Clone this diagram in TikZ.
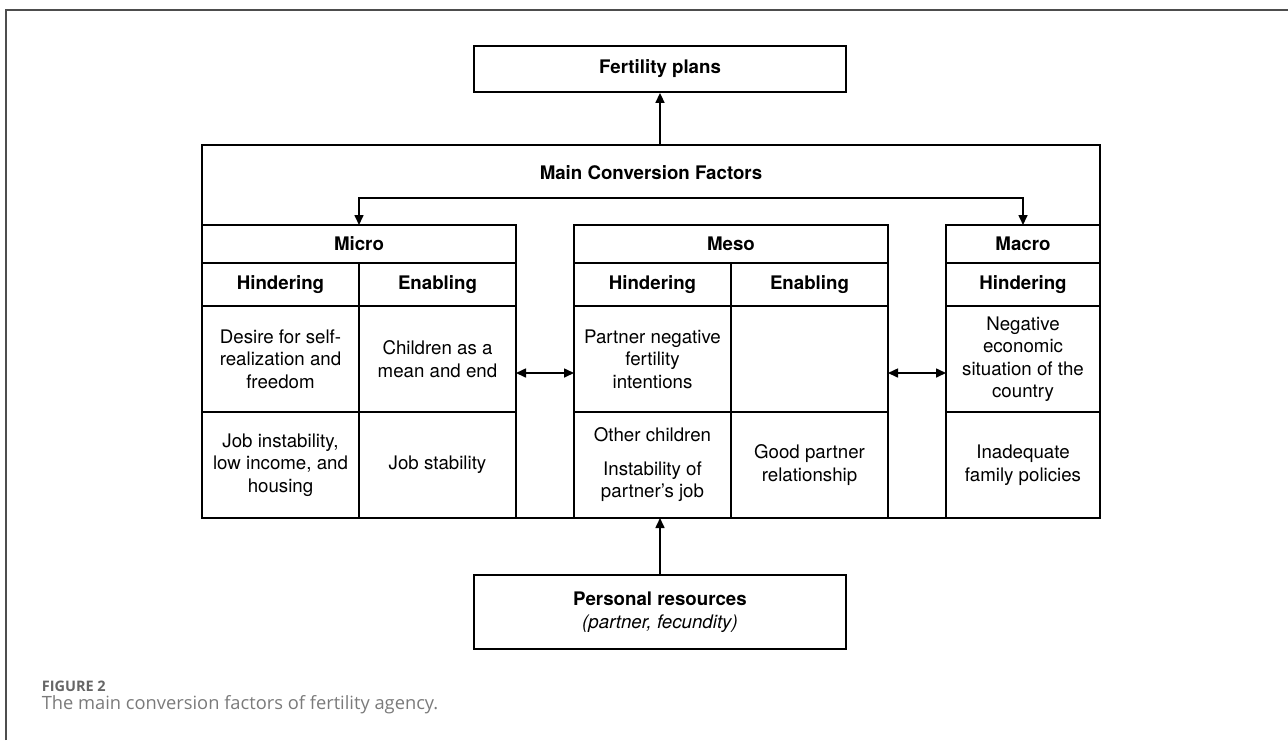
\documentclass[tikz,border=0pt]{standalone}
\usepackage{fontspec}
\setmainfont{TeX Gyre Heros}
\newfontfamily\capfont{Open Sans}
\usetikzlibrary{positioning,arrows.meta}
\definecolor{capgray}{HTML}{7A7A7A}
\definecolor{figgray}{HTML}{666666}
\definecolor{rulegray}{HTML}{4D4D4D}

\begin{document}
\begin{tikzpicture}[x=1pt, y=-1pt, line width=1.6pt, >={Triangle[length=10pt,width=9pt]},
    every node/.style={font=\fontsize{18.7}{22.5}\selectfont},
    tcell/.style={draw, align=center, inner sep=0pt, outer sep=0pt, minimum width=157pt},
    hdcell/.style={font=\fontsize{18.7}{22.5}\selectfont\bfseries, minimum height=38pt},
    subcell/.style={font=\fontsize{18.7}{22.5}\selectfont\bfseries, minimum height=43pt},
    rowcell/.style={minimum height=106pt},
    plainbox/.style={draw, line width=1.8pt, align=center, inner sep=0pt, minimum width=372pt}]
    \useasboundingbox (0,0) rectangle (1288,740);
    \draw[rulegray, line width=1.4pt] (6,740) -- (6,10) -- (1288,10);

    \node[plainbox, minimum height=46pt] (plans) at (660,69) {\textbf{Fertility plans}};
    \node (mcf) at (651,173) {\textbf{Main Conversion Factors}};

    \node[tcell, hdcell, minimum width=314pt] (mi-head) at (359,244) {Micro};
    \node[tcell, subcell, below right=0pt and 0pt of mi-head.south west] (mi-h) {Hindering};
    \node[tcell, subcell, right=0pt of mi-h] (mi-e) {Enabling};
    \node[tcell, rowcell, below=0pt of mi-h] (mi-h1) {Desire for self-\\realization and\\freedom};
    \node[tcell, rowcell, below=0pt of mi-e] (mi-e1) {Children as a\\mean and end};
    \node[tcell, rowcell, below=0pt of mi-h1] (mi-h2) {Job instability,\\low income, and\\housing};
    \node[tcell, rowcell, below=0pt of mi-e1] (mi-e2) {Job stability};

    \node[tcell, hdcell, minimum width=314pt] (me-head) at (731,244) {Meso};
    \node[tcell, subcell, below right=0pt and 0pt of me-head.south west] (me-h) {Hindering};
    \node[tcell, subcell, right=0pt of me-h] (me-e) {Enabling};
    \node[tcell, rowcell, below=0pt of me-h] (me-h1) {Partner negative\\fertility\\intentions};
    \node[tcell, rowcell, below=0pt of me-e] (me-e1) {};
    \node[tcell, rowcell, below=0pt of me-h1] (me-h2) {Other children\\[11pt]Instability of\\partner's job};
    \node[tcell, rowcell, below=0pt of me-e1] (me-e2) {Good partner\\relationship};

    \node[tcell, hdcell, minimum width=154pt] (ma-head) at (1023,244) {Macro};
    \node[tcell, subcell, minimum width=154pt, below=0pt of ma-head] (ma-h) {Hindering};
    \node[tcell, rowcell, minimum width=154pt, below=0pt of ma-h] (ma-h1) {Negative\\economic\\situation of the\\country};
    \node[tcell, rowcell, minimum width=154pt, below=0pt of ma-h1] (ma-h2) {Inadequate\\family policies};

    \node[plainbox, minimum height=74pt] (res) at (660,612) {\textbf{Personal resources}\\[1pt]\textit{(partner, fecundity)}};

    \coordinate (frame) at (202,145);
    \coordinate (split) at (660,198);
    \draw (mi-head.north west) -- (frame) -| (ma-head.north east);
    \draw[->] (plans.south |- frame) -- (plans.south);
    \draw[<->] (mi-head.north -| mi-h.east) |- (split) -| (ma-head.north);
    \draw[<->] ([yshift=-14pt]mi-e1.east) -- ([yshift=-14pt]me-h1.west);
    \draw[<->] ([yshift=-14pt]me-e1.east) -- ([yshift=-14pt]ma-h1.west);
    \draw (mi-e2.south east) -- (me-h2.south west);
    \draw (me-e2.south east) -- (ma-h2.south west);
    \draw[->] (res.north) -- (res.north |- me-h2.south);

    \node[anchor=west, inner sep=0pt, text=figgray, font=\capfont\fontsize{14.5}{17}\selectfont\bfseries] (fig) at (41,686) {FIGURE 2};
    \node[anchor=west, inner sep=0pt, text=capgray, font=\capfont\fontsize{18.3}{22}\selectfont] (cap) at (41,705) {The main conversion factors of fertility agency.};
\end{tikzpicture}
\end{document}
